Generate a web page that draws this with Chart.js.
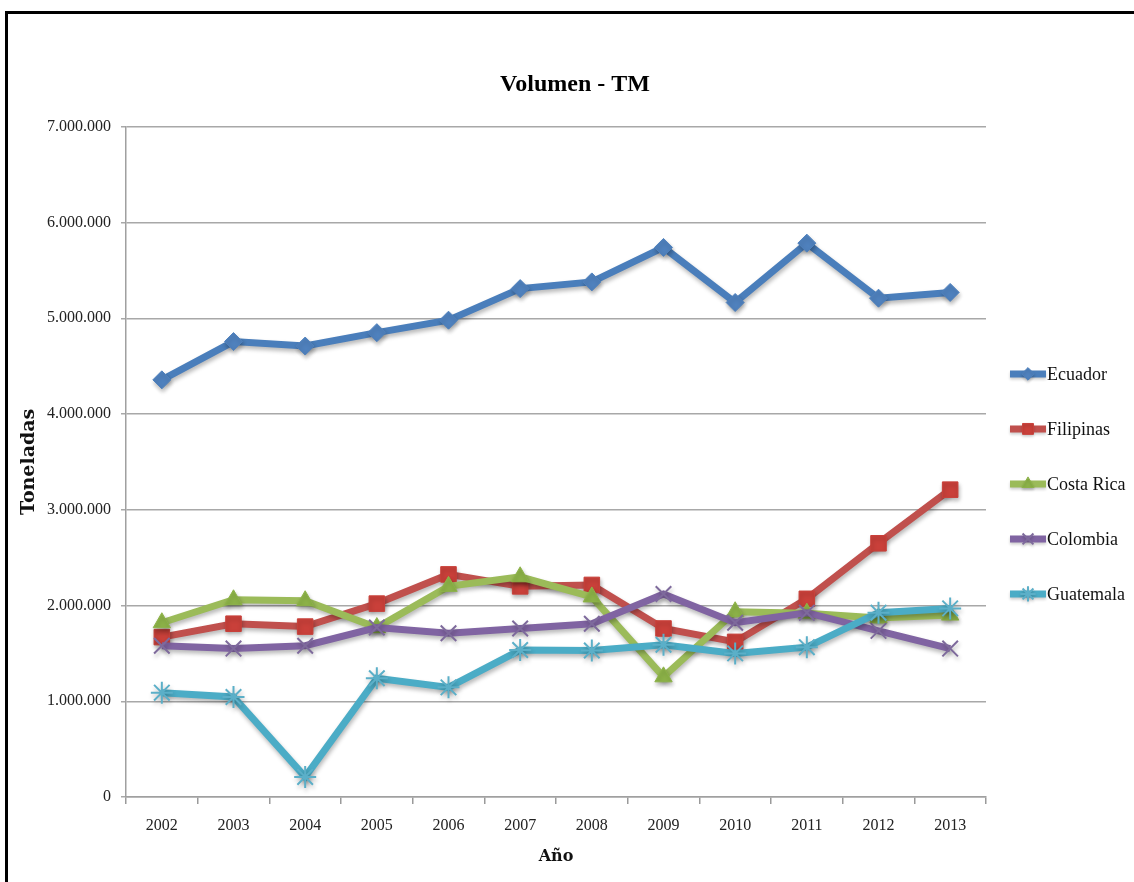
<!DOCTYPE html>
<html lang="es">
<head>
<meta charset="utf-8">
<title>Volumen - TM</title>
<script src="https://cdn.jsdelivr.net/npm/chart.js@4.4.1/dist/chart.umd.min.js"></script>
<style>
  html, body { margin: 0; padding: 0; background: #fff; overflow: hidden; }
  #wrap { position: relative; width: 1134px; height: 882px; }
  #frame {
    position: absolute; left: 5px; top: 11px; width: 1200px; height: 1000px;
    border-left: 3px solid #000; border-top: 3px solid #000; box-sizing: border-box;
  }
  #chart { position: absolute; left: 0; top: 0; }
</style>
</head>
<body>
<div id="wrap">
  <div id="frame"></div>
  <canvas id="chart" width="1134" height="882"></canvas>
</div>
<script>
// Years on the category axis
const years = ['2002', '2003', '2004', '2005', '2006', '2007', '2008', '2009', '2010', '2011', '2012', '2013'];

// Banana export volume per country, metric tons
const ecuador   = [4357000, 4757000, 4710000, 4850000, 4980000, 5310000, 5380000, 5740000, 5165000, 5785000, 5210000, 5270000];
const filipinas = [1670000, 1810000, 1780000, 2020000, 2325000, 2200000, 2215000, 1760000, 1620000, 2070000, 2650000, 3210000];
const costaRica = [1820000, 2060000, 2050000, 1770000, 2200000, 2300000, 2090000, 1255000, 1935000, 1920000, 1870000, 1900000];
const colombia  = [1580000, 1550000, 1580000, 1770000, 1710000, 1760000, 1810000, 2120000, 1820000, 1925000, 1735000, 1550000];
const guatemala = [1090000, 1045000,  210000, 1240000, 1145000, 1535000, 1530000, 1590000, 1500000, 1565000, 1925000, 1970000];

const seriesNames = ['Ecuador', 'Filipinas', 'Costa Rica', 'Colombia', 'Guatemala'];

// Y axis tick values
const yTicks = [0, 1000000, 2000000, 3000000, 4000000, 5000000, 6000000, 7000000];

const serif = "'Liberation Serif', 'Times New Roman', serif";
const boldSerif = "'DejaVu Serif', serif";

function thousands(v) {
  return String(Math.round(v)).replace(/\B(?=(\d{3})+(?!\d))/g, '.');
}

const styles = [
  { color: '#4A7EBB', marker: '#4F81BD', point: 'rectRot',   radius: 9,  bw: 1 },
  { color: '#C0504D', marker: '#C9403A', point: 'rect',      radius: 11, bw: 1 },
  { color: '#9BBB59', marker: '#8DB348', point: 'triangle',  radius: 10, bw: 1 },
  { color: '#8064A2', marker: '#7E6A9C', point: 'crossRot',  radius: 11, bw: 2 },
  { color: '#4BACC6', marker: '#5BAFC8', point: 'star',      radius: 11, bw: 2 }
];

const values = [ecuador, filipinas, costaRica, colombia, guatemala];

const datasets = values.map((vals, i) => ({
  label: seriesNames[i],
  data: vals,
  borderColor: styles[i].color,
  backgroundColor: styles[i].marker,
  borderWidth: 7,
  tension: 0,
  pointStyle: styles[i].point,
  pointRadius: styles[i].radius,
  pointHoverRadius: styles[i].radius,
  pointBackgroundColor: styles[i].marker,
  pointBorderColor: styles[i].marker,
  pointBorderWidth: styles[i].bw,
  order: values.length - i,
  clip: false
}));

// Soft drop shadow under the series lines
const shadowPlugin = {
  id: 'seriesShadow',
  beforeDatasetsDraw(chart) {
    const ctx = chart.ctx;
    ctx.save();
    ctx.shadowColor = 'rgba(0,0,0,0.28)';
    ctx.shadowBlur = 4;
    ctx.shadowOffsetX = 1;
    ctx.shadowOffsetY = 3;
  },
  afterDatasetsDraw(chart) {
    chart.ctx.restore();
  }
};

// Legend on the right: line sample with the series marker in the middle
const sideLegend = {
  id: 'sideLegend',
  afterDraw(chart) {
    const ctx = chart.ctx;
    const area = chart.chartArea;
    const x0 = area.right + 24;
    const x1 = x0 + 36;
    const gap = 55;
    const yStart = (area.top + area.bottom) / 2 + 22 - gap * 2;
    chart.data.datasets.forEach((ds, i) => {
      const y = yStart + i * gap;
      ctx.save();
      ctx.shadowColor = 'rgba(0,0,0,0.2)';
      ctx.shadowBlur = 3;
      ctx.shadowOffsetY = 2;
      ctx.strokeStyle = ds.borderColor;
      ctx.lineWidth = 7;
      ctx.lineCap = 'butt';
      ctx.beginPath();
      ctx.moveTo(x0, y);
      ctx.lineTo(x1, y);
      ctx.stroke();
      ctx.fillStyle = ds.pointBackgroundColor;
      ctx.strokeStyle = ds.pointBorderColor;
      ctx.lineWidth = ds.pointBorderWidth;
      Chart.helpers.drawPoint(ctx, {
        pointStyle: ds.pointStyle,
        radius: ds.pointRadius * 0.7,
        rotation: 0,
        borderWidth: ds.pointBorderWidth
      }, (x0 + x1) / 2, y);
      ctx.restore();
      ctx.save();
      ctx.fillStyle = '#111';
      ctx.font = '18px ' + serif;
      ctx.textAlign = 'left';
      ctx.textBaseline = 'middle';
      ctx.fillText(ds.label, x1 + 1, y + 1);
      ctx.restore();
    });
  }
};

new Chart(document.getElementById('chart'), {
  type: 'line',
  data: { labels: years, datasets },
  options: {
    responsive: false,
    animation: false,
    devicePixelRatio: 1,
    layout: { padding: { left: 16, right: 0, top: 0, bottom: 0 } },
    plugins: {
      legend: { display: false },
      tooltip: { enabled: false },
      title: {
        display: true,
        text: 'Volumen - TM',
        color: '#000',
        font: { family: serif, size: 24, weight: 'bold' },
        padding: { top: 70, bottom: 28 }
      }
    },
    scales: {
      x: {
        type: 'category',
        offset: true,
        grid: {
          offset: true,
          drawOnChartArea: false,
          drawTicks: true,
          tickLength: 7,
          color: '#9a9a9a',
          lineWidth: 1.5
        },
        border: { display: true, color: '#a0a0a0', width: 1.5 },
        ticks: {
          color: '#222',
          font: { family: serif, size: 16 },
          padding: 12,
          maxRotation: 0
        },
        title: {
          display: true,
          text: 'Año',
          color: '#111',
          font: { family: boldSerif, size: 16, weight: 'bold' },
          padding: { top: 0, bottom: 16 }
        },
        afterFit(scale) { scale.height = 85; }
      },
      y: {
        min: 0,
        max: 7000000,
        afterBuildTicks(scale) { scale.ticks = yTicks.map(v => ({ value: v })); },
        grid: {
          color: '#a8a8a8',
          lineWidth: 1.5,
          drawTicks: true,
          tickLength: 5
        },
        border: { display: true, color: '#a0a0a0', width: 1.5 },
        ticks: {
          color: '#222',
          font: { family: serif, size: 16 },
          padding: 10,
          callback: (v) => thousands(v)
        },
        title: {
          display: true,
          text: 'Toneladas',
          color: '#111',
          font: { family: boldSerif, size: 19, weight: 'bold' },
          padding: { top: 2, bottom: 0 }
        },
        afterFit(scale) { scale.width = 110; }
      },
      // Empty right-hand band that holds the legend
      legendBand: {
        type: 'linear',
        position: 'right',
        display: true,
        grid: { display: false, drawTicks: false },
        border: { display: false },
        ticks: { display: false },
        afterFit(scale) { scale.width = 148; }
      }
    }
  },
  plugins: [shadowPlugin, sideLegend]
});
</script>
</body>
</html>
